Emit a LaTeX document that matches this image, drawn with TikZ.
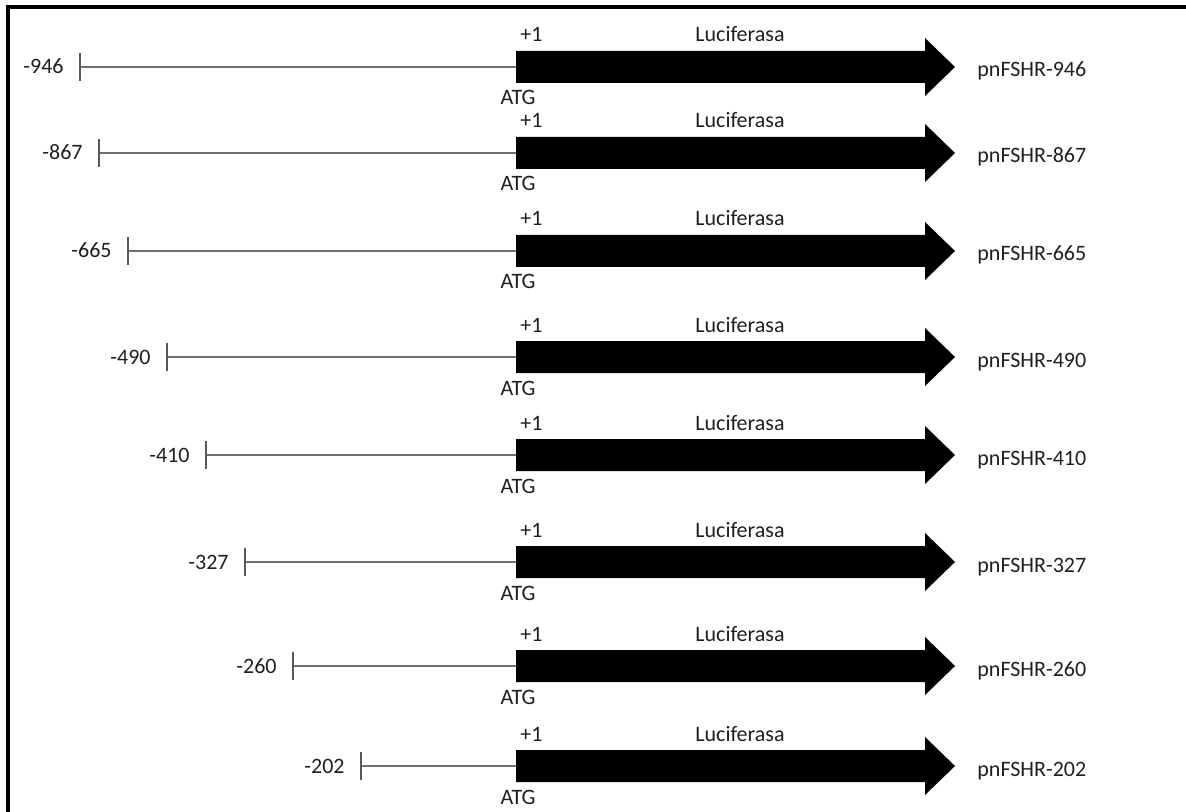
\documentclass[tikz,border=0pt]{standalone}
\usepackage{fontspec}
\setmainfont{Carlito}
\usetikzlibrary{positioning}
\definecolor{genegray}{RGB}{112,112,112}
\definecolor{tickgray}{RGB}{88,88,88}
\begin{document}
\begin{tikzpicture}[x=0.5pt, y=-0.5pt,
  gene/.style={genegray, line width=1pt},
  tickmark/.style={tickgray, line width=1.1pt},
  luc/.style={fill=black},
  lbl/.style={font=\fontsize{11}{13}\selectfont, inner sep=0pt, text=black!88}]
\useasboundingbox (0,0) rectangle (1186,812);

% Frame
\draw[line width=2pt] (8,812) -- (8,7) -- (1186,7);

% pnFSHR-946
\coordinate (t1) at (80,67);
\coordinate (s1) at (516,67);
\coordinate (e1) at (955,67);
\draw[gene] (t1) -- (s1);
\draw[tickmark] (t1) ++(0,-14) -- ++(0,28);
\fill[luc] (s1) ++(0,-16) -- ++(409,0) -- ++(0,-13) -- (e1) -- ++(-30,29) -- ++(0,-13) -- ++(-409,0) -- cycle;
\node[lbl, left=8pt of t1, anchor=base east, yshift=-3.5pt] (n1) {-946};
\node[lbl, above right=12.5pt and 2pt of s1, anchor=base west] (p1) {+1};
\node[lbl, below=19pt of s1, anchor=base, xshift=1pt] (a1) {ATG};
\node[lbl, above right=12.5pt and 112pt of s1, anchor=base] (l1) {Luciferasa};
\node[lbl, right=11pt of e1, anchor=base west, yshift=-5pt] (c1) {pnFSHR-946};

% pnFSHR-867
\coordinate (t2) at (99,153);
\coordinate (s2) at (516,153);
\coordinate (e2) at (955,153);
\draw[gene] (t2) -- (s2);
\draw[tickmark] (t2) ++(0,-14) -- ++(0,28);
\fill[luc] (s2) ++(0,-16) -- ++(409,0) -- ++(0,-13) -- (e2) -- ++(-30,29) -- ++(0,-13) -- ++(-409,0) -- cycle;
\node[lbl, left=8pt of t2, anchor=base east, yshift=-3.5pt] (n2) {-867};
\node[lbl, above right=12.5pt and 2pt of s2, anchor=base west] (p2) {+1};
\node[lbl, below=19pt of s2, anchor=base, xshift=1pt] (a2) {ATG};
\node[lbl, above right=12.5pt and 112pt of s2, anchor=base] (l2) {Luciferasa};
\node[lbl, right=11pt of e2, anchor=base west, yshift=-5pt] (c2) {pnFSHR-867};

% pnFSHR-665
\coordinate (t3) at (128,251);
\coordinate (s3) at (516,251);
\coordinate (e3) at (955,251);
\draw[gene] (t3) -- (s3);
\draw[tickmark] (t3) ++(0,-14) -- ++(0,28);
\fill[luc] (s3) ++(0,-16) -- ++(409,0) -- ++(0,-13) -- (e3) -- ++(-30,29) -- ++(0,-13) -- ++(-409,0) -- cycle;
\node[lbl, left=8pt of t3, anchor=base east, yshift=-3.5pt] (n3) {-665};
\node[lbl, above right=12.5pt and 2pt of s3, anchor=base west] (p3) {+1};
\node[lbl, below=19pt of s3, anchor=base, xshift=1pt] (a3) {ATG};
\node[lbl, above right=12.5pt and 112pt of s3, anchor=base] (l3) {Luciferasa};
\node[lbl, right=11pt of e3, anchor=base west, yshift=-5pt] (c3) {pnFSHR-665};

% pnFSHR-490
\coordinate (t4) at (167,357);
\coordinate (s4) at (516,357);
\coordinate (e4) at (955,357);
\draw[gene] (t4) -- (s4);
\draw[tickmark] (t4) ++(0,-14) -- ++(0,28);
\fill[luc] (s4) ++(0,-16) -- ++(409,0) -- ++(0,-13) -- (e4) -- ++(-30,29) -- ++(0,-13) -- ++(-409,0) -- cycle;
\node[lbl, left=8pt of t4, anchor=base east, yshift=-3.5pt] (n4) {-490};
\node[lbl, above right=12.5pt and 2pt of s4, anchor=base west] (p4) {+1};
\node[lbl, below=19pt of s4, anchor=base, xshift=1pt] (a4) {ATG};
\node[lbl, above right=12.5pt and 112pt of s4, anchor=base] (l4) {Luciferasa};
\node[lbl, right=11pt of e4, anchor=base west, yshift=-5pt] (c4) {pnFSHR-490};

% pnFSHR-410
\coordinate (t5) at (206,455);
\coordinate (s5) at (516,455);
\coordinate (e5) at (955,455);
\draw[gene] (t5) -- (s5);
\draw[tickmark] (t5) ++(0,-14) -- ++(0,28);
\fill[luc] (s5) ++(0,-16) -- ++(409,0) -- ++(0,-13) -- (e5) -- ++(-30,29) -- ++(0,-13) -- ++(-409,0) -- cycle;
\node[lbl, left=8pt of t5, anchor=base east, yshift=-3.5pt] (n5) {-410};
\node[lbl, above right=12.5pt and 2pt of s5, anchor=base west] (p5) {+1};
\node[lbl, below=19pt of s5, anchor=base, xshift=1pt] (a5) {ATG};
\node[lbl, above right=12.5pt and 112pt of s5, anchor=base] (l5) {Luciferasa};
\node[lbl, right=11pt of e5, anchor=base west, yshift=-5pt] (c5) {pnFSHR-410};

% pnFSHR-327
\coordinate (t6) at (245,562);
\coordinate (s6) at (516,562);
\coordinate (e6) at (955,562);
\draw[gene] (t6) -- (s6);
\draw[tickmark] (t6) ++(0,-14) -- ++(0,28);
\fill[luc] (s6) ++(0,-16) -- ++(409,0) -- ++(0,-13) -- (e6) -- ++(-30,29) -- ++(0,-13) -- ++(-409,0) -- cycle;
\node[lbl, left=8pt of t6, anchor=base east, yshift=-3.5pt] (n6) {-327};
\node[lbl, above right=12.5pt and 2pt of s6, anchor=base west] (p6) {+1};
\node[lbl, below=19pt of s6, anchor=base, xshift=1pt] (a6) {ATG};
\node[lbl, above right=12.5pt and 112pt of s6, anchor=base] (l6) {Luciferasa};
\node[lbl, right=11pt of e6, anchor=base west, yshift=-5pt] (c6) {pnFSHR-327};

% pnFSHR-260
\coordinate (t7) at (293,666);
\coordinate (s7) at (516,666);
\coordinate (e7) at (955,666);
\draw[gene] (t7) -- (s7);
\draw[tickmark] (t7) ++(0,-14) -- ++(0,28);
\fill[luc] (s7) ++(0,-16) -- ++(409,0) -- ++(0,-13) -- (e7) -- ++(-30,29) -- ++(0,-13) -- ++(-409,0) -- cycle;
\node[lbl, left=8pt of t7, anchor=base east, yshift=-3.5pt] (n7) {-260};
\node[lbl, above right=12.5pt and 2pt of s7, anchor=base west] (p7) {+1};
\node[lbl, below=19pt of s7, anchor=base, xshift=1pt] (a7) {ATG};
\node[lbl, above right=12.5pt and 112pt of s7, anchor=base] (l7) {Luciferasa};
\node[lbl, right=11pt of e7, anchor=base west, yshift=-5pt] (c7) {pnFSHR-260};

% pnFSHR-202
\coordinate (t8) at (361,766);
\coordinate (s8) at (516,766);
\coordinate (e8) at (955,766);
\draw[gene] (t8) -- (s8);
\draw[tickmark] (t8) ++(0,-14) -- ++(0,28);
\fill[luc] (s8) ++(0,-16) -- ++(409,0) -- ++(0,-13) -- (e8) -- ++(-30,29) -- ++(0,-13) -- ++(-409,0) -- cycle;
\node[lbl, left=8pt of t8, anchor=base east, yshift=-3.5pt] (n8) {-202};
\node[lbl, above right=12.5pt and 2pt of s8, anchor=base west] (p8) {+1};
\node[lbl, below=19pt of s8, anchor=base, xshift=1pt] (a8) {ATG};
\node[lbl, above right=12.5pt and 112pt of s8, anchor=base] (l8) {Luciferasa};
\node[lbl, right=11pt of e8, anchor=base west, yshift=-5pt] (c8) {pnFSHR-202};
\end{tikzpicture}
\end{document}
